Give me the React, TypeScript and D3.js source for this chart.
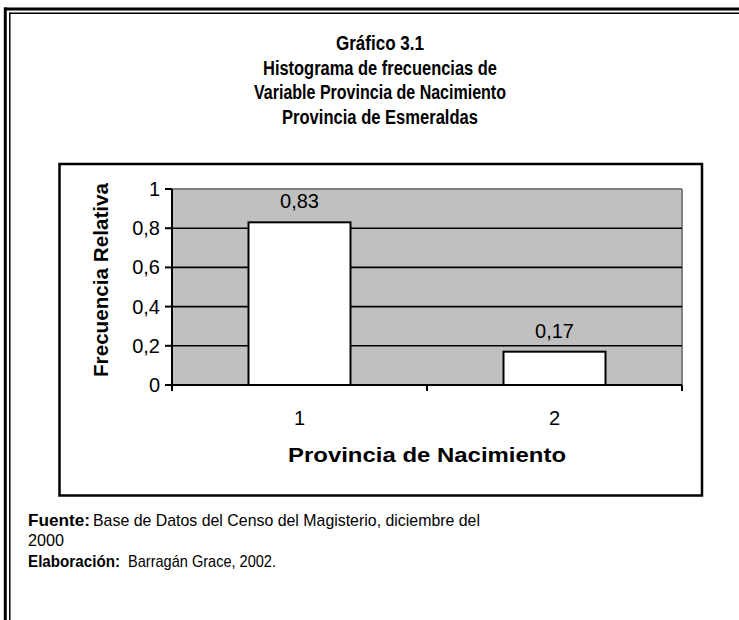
import React from "react";
import * as d3 from "d3";

const titleLines = [
  "Gráfico 3.1",
  "Histograma de frecuencias de",
  "Variable Provincia de Nacimiento",
  "Provincia de Esmeraldas",
];
const titleWidths = [88, 234, 252, 196];
const categories = ["1", "2"];
const values = [0.83, 0.17];
const valueLabels = ["0,83", "0,17"];
const yTicks = [0, 0.2, 0.4, 0.6, 0.8, 1];
const yTickLabels = ["0", "0,2", "0,4", "0,6", "0,8", "1"];
const xTitle = "Provincia de Nacimiento";
const yTitle = "Frecuencia Relativa";

const W = 739;
const H = 620;
const FONT = "'Liberation Sans', Arial, Helvetica, sans-serif";

export default function App() {
  const plot = { left: 172, right: 682, top: 189, bottom: 385 };
  const x = d3
    .scaleBand<string>()
    .domain(categories)
    .range([plot.left, plot.right])
    .paddingInner(0.6)
    .paddingOuter(0.3);
  const y = d3.scaleLinear().domain([0, 1]).range([plot.bottom, plot.top]);
  const step = x.step();
  const boundaries = d3.range(categories.length + 1).map((i) => plot.left + i * step);

  return (
    <div style={{ position: "absolute", left: 0, top: 0 }}>
      <svg width={W} height={H} style={{ display: "block", background: "#fff" }}>
        {/* outer double frame */}
        <line x1={4} y1={9} x2={W} y2={9} stroke="#000" strokeWidth={3} />
        <line x1={5.3} y1={7.5} x2={5.3} y2={H} stroke="#000" strokeWidth={3} />
        <line x1={9.3} y1={13.3} x2={W} y2={13.3} stroke="#000" strokeWidth={1.5} />
        <line x1={9.8} y1={12.5} x2={9.8} y2={H} stroke="#000" strokeWidth={1.5} />

        {/* title */}
        {titleLines.map((t, i) => (
          <text
            key={i}
            x={380}
            y={50 + i * 24.5}
            textAnchor="middle"
            fontFamily={FONT}
            fontWeight="bold"
            fontSize={20}
            textLength={titleWidths[i]}
            lengthAdjust="spacingAndGlyphs"
            fill="#000"
          >
            {t}
          </text>
        ))}

        {/* chart box */}
        <rect x={59.5} y={164} width={642.5} height={331.5} fill="none" stroke="#000" strokeWidth={2.5} />

        {/* plot area */}
        <rect x={plot.left} y={plot.top} width={plot.right - plot.left} height={plot.bottom - plot.top} fill="#c0c0c0" />
        <line x1={plot.left} y1={plot.top} x2={plot.right} y2={plot.top} stroke="#808080" strokeWidth={2} />
        <line x1={plot.right} y1={plot.top} x2={plot.right} y2={plot.bottom} stroke="#808080" strokeWidth={2} />

        {/* gridlines */}
        {yTicks
          .filter((v) => v > 0 && v < 1)
          .map((v) => (
            <line key={v} x1={plot.left} x2={plot.right} y1={y(v)} y2={y(v)} stroke="#000" strokeWidth={1.6} />
          ))}

        {/* bars */}
        {categories.map((c, i) => (
          <rect
            key={c}
            x={x(c)!}
            y={y(values[i])}
            width={x.bandwidth()}
            height={y(0) - y(values[i])}
            fill="#fff"
            stroke="#000"
            strokeWidth={2}
          />
        ))}

        {/* value labels */}
        {categories.map((c, i) => (
          <text
            key={c}
            x={x(c)! + x.bandwidth() / 2}
            y={y(values[i]) - 14}
            textAnchor="middle"
            fontFamily={FONT}
            fontSize={20}
            fill="#000"
          >
            {valueLabels[i]}
          </text>
        ))}

        {/* y axis */}
        <line x1={plot.left} x2={plot.left} y1={plot.top} y2={plot.bottom + 5} stroke="#000" strokeWidth={2} />
        {yTicks.map((v, i) => (
          <g key={v}>
            <line x1={plot.left - 7} x2={plot.left} y1={y(v)} y2={y(v)} stroke="#000" strokeWidth={2} />
            <text
              x={160}
              y={y(v) + 7}
              textAnchor="end"
              fontFamily={FONT}
              fontSize={20}
              fill="#000"
            >
              {yTickLabels[i]}
            </text>
          </g>
        ))}

        {/* x axis */}
        <line x1={plot.left} x2={plot.right} y1={plot.bottom} y2={plot.bottom} stroke="#000" strokeWidth={2} />
        {boundaries.map((b, i) => (
          <line key={i} x1={b} x2={b} y1={plot.bottom} y2={plot.bottom + 6} stroke="#000" strokeWidth={2} />
        ))}
        {categories.map((c) => (
          <text
            key={c}
            x={x(c)! + x.bandwidth() / 2}
            y={425}
            textAnchor="middle"
            fontFamily={FONT}
            fontSize={20}
            fill="#000"
          >
            {c}
          </text>
        ))}

        {/* axis titles */}
        <text
          x={427}
          y={462}
          textAnchor="middle"
          fontFamily={FONT}
          fontWeight="bold"
          fontSize={20}
          textLength={278}
          lengthAdjust="spacingAndGlyphs"
          fill="#000"
        >
          {xTitle}
        </text>
        <text
          transform="translate(108,280) rotate(-90)"
          textAnchor="middle"
          fontFamily={FONT}
          fontWeight="bold"
          fontSize={20}
          textLength={194}
          lengthAdjust="spacingAndGlyphs"
          fill="#000"
        >
          {yTitle}
        </text>

        {/* footer */}
        <text x={28} y={526} fontFamily={FONT} fontSize={17} fontWeight="bold" textLength={62} lengthAdjust="spacingAndGlyphs" fill="#000">
          Fuente:
        </text>
        <text x={93} y={526} fontFamily={FONT} fontSize={17} textLength={387} lengthAdjust="spacingAndGlyphs" fill="#000">
          Base de Datos del Censo del Magisterio, diciembre del
        </text>
        <text x={28} y={546} fontFamily={FONT} fontSize={17} textLength={36} lengthAdjust="spacingAndGlyphs" fill="#000">
          2000
        </text>
        <text x={28} y={567} fontFamily={FONT} fontSize={17} fontWeight="bold" textLength={92} lengthAdjust="spacingAndGlyphs" fill="#000">
          Elaboración:
        </text>
        <text x={128} y={567} fontFamily={FONT} fontSize={17} textLength={148} lengthAdjust="spacingAndGlyphs" fill="#000">
          Barragán Grace, 2002.
        </text>
      </svg>
    </div>
  );
}
